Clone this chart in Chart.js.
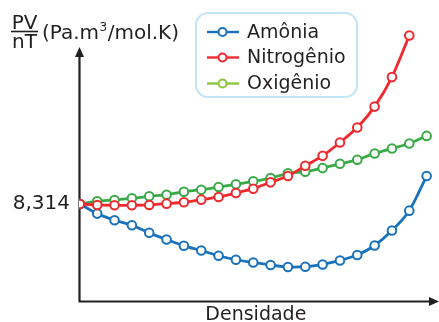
<!DOCTYPE html>
<html>
<head>
<meta charset="utf-8">
<script src="https://cdn.jsdelivr.net/npm/chart.js@4/dist/chart.umd.min.js"></script>
<style>
html,body{margin:0;padding:0;background:#fff;}
#wrap{width:439px;height:322px;}
</style>
</head>
<body>
<div id="wrap"><canvas id="c" width="439" height="322"></canvas></div>
<script>
// Density steps (arbitrary units, unlabeled on the chart)
const densidade = [0,1,2,3,4,5,6,7,8,9,10,11,12,13,14,15,16,17,18,19,20];
// PV/nT values
const amonia = [8.314,8.217,8.151,8.101,8.024,7.957,7.894,7.847,7.794,7.754,7.727,7.701,7.681,7.684,7.707,7.747,7.801,7.897,8.047,8.247,8.594];
const nitrogenio = [8.314,8.304,8.301,8.301,8.304,8.317,8.331,8.357,8.384,8.424,8.467,8.531,8.594,8.697,8.797,8.931,9.081,9.291,9.587,10.004];
const oxigenio = [8.314,8.341,8.354,8.371,8.391,8.407,8.437,8.457,8.484,8.511,8.541,8.574,8.622,8.637,8.674,8.717,8.757,8.821,8.871,8.921,8.997];
const seriesNames = ['Amônia','Nitrogênio','Oxigênio'];
const yTickValues = [8.314];
const yTickLabels = ['8,314'];
const xTitle = 'Densidade';

const FONT = '"DejaVu Sans", Verdana, sans-serif';
const TXT = '#231f20';
const colors = ['#1a72bb','#ee2a2e','#3aaa48'];
const legendColors = ['#1a72bb','#ee2a2e','#8cc63f'];

function pts(arr){ return arr.map((v,i)=>({x:densidade[i], y:v})); }

const ds = [amonia, nitrogenio, oxigenio].map((arr,i)=>({
  label: seriesNames[i],
  data: pts(arr),
  borderColor: colors[i],
  backgroundColor: '#ffffff',
  pointBackgroundColor: '#ffffff',
  pointBorderColor: colors[i],
  pointBorderWidth: 2,
  pointRadius: 4.3,
  borderWidth: 2.8,
  tension: 0.25,
  order: [1,0,2][i]
}));

const decor = {
  id: 'decor',
  beforeDatasetsDraw(chart){
    const {ctx, chartArea:a} = chart;
    ctx.save();
    ctx.strokeStyle = TXT; ctx.fillStyle = TXT; ctx.lineWidth = 2.2;
    const x0 = a.left + 0.5, y0 = a.bottom + 0.5;
    ctx.beginPath();
    ctx.moveTo(x0, y0); ctx.lineTo(x0, 55);
    ctx.moveTo(x0 - 1, y0); ctx.lineTo(430, y0);
    ctx.stroke();
    // arrowheads
    ctx.beginPath();
    ctx.moveTo(x0, 47); ctx.lineTo(x0 - 4.5, 57); ctx.lineTo(x0 + 4.5, 57); ctx.closePath(); ctx.fill();
    ctx.beginPath();
    ctx.moveTo(439, y0); ctx.lineTo(429, y0 - 4.5); ctx.lineTo(429, y0 + 4.5); ctx.closePath(); ctx.fill();
    ctx.restore();
  },
  afterDraw(chart){
    const ctx = chart.ctx;
    ctx.save();
    // Y axis title as fraction
    ctx.fillStyle = TXT;
    ctx.font = '20px ' + FONT;
    ctx.textAlign = 'center'; ctx.textBaseline = 'alphabetic';
    ctx.fillText('PV', 24.5, 28.5);
    ctx.fillText('nT', 24.5, 47.5);
    ctx.strokeStyle = TXT; ctx.lineWidth = 1.6;
    ctx.beginPath(); ctx.moveTo(11, 31.5); ctx.lineTo(38, 31.5); ctx.stroke();
    ctx.textAlign = 'left';
    let x = 42;
    const p1 = '(Pa.m', p2 = '3', p3 = '/mol.K)';
    ctx.fillText(p1, x, 39); x += ctx.measureText(p1).width;
    ctx.font = '12px ' + FONT;
    ctx.fillText(p2, x + 0.5, 31); x += ctx.measureText(p2).width + 1;
    ctx.font = '20px ' + FONT;
    ctx.fillText(p3, x, 39);
    // Legend box
    const bx = 196, by = 13, bw = 161, bh = 84, r = 12;
    ctx.beginPath();
    ctx.roundRect(bx, by, bw, bh, r);
    ctx.fillStyle = '#ffffff'; ctx.fill();
    ctx.strokeStyle = '#c3e4f6'; ctx.lineWidth = 2; ctx.stroke();
    const rows = [32, 57.5, 83.5];
    chart.data.datasets.forEach((d, i) => {
      const yy = rows[i];
      ctx.strokeStyle = legendColors[i]; ctx.lineWidth = 2.4;
      ctx.beginPath(); ctx.moveTo(207, yy); ctx.lineTo(239, yy); ctx.stroke();
      ctx.beginPath(); ctx.arc(222.5, yy, 4, 0, Math.PI*2);
      ctx.fillStyle = '#fff'; ctx.fill(); ctx.lineWidth = 2; ctx.stroke();
      ctx.fillStyle = TXT; ctx.font = '19px ' + FONT;
      ctx.textAlign = 'left'; ctx.textBaseline = 'middle';
      ctx.fillText(d.label, 247, yy + 1);
    });
    ctx.restore();
  }
};

new Chart(document.getElementById('c'), {
  type: 'line',
  data: { datasets: ds },
  options: {
    responsive: false,
    animation: false,
    events: [],
    layout: { padding: { top: 26, right: 1, left: 0, bottom: 0 } },
    plugins: { legend: { display: false }, tooltip: { enabled: false } },
    scales: {
      x: {
        type: 'linear', min: -0.05, max: 20.35,
        grid: { display: false, drawTicks: false },
        border: { display: false },
        ticks: { display: false },
        title: { display: true, text: xTitle, color: TXT, font: { family: FONT, size: 19 }, padding: { top: 0, bottom: -5 } },
        afterFit(s){ s.height = 20; }
      },
      y: {
        min: 7.34, max: 10.1,
        grid: { display: false, drawTicks: false },
        border: { display: false },
        afterBuildTicks(s){ s.ticks = yTickValues.map(v => ({ value: v })); },
        ticks: {
          color: TXT, font: { family: FONT, size: 20 }, padding: 9,
          callback(v){ const k = yTickValues.indexOf(v); return k >= 0 ? yTickLabels[k] : ''; }
        },
        afterFit(s){ s.width = 79; }
      }
    }
  },
  plugins: [decor]
});
</script>
</body>
</html>
